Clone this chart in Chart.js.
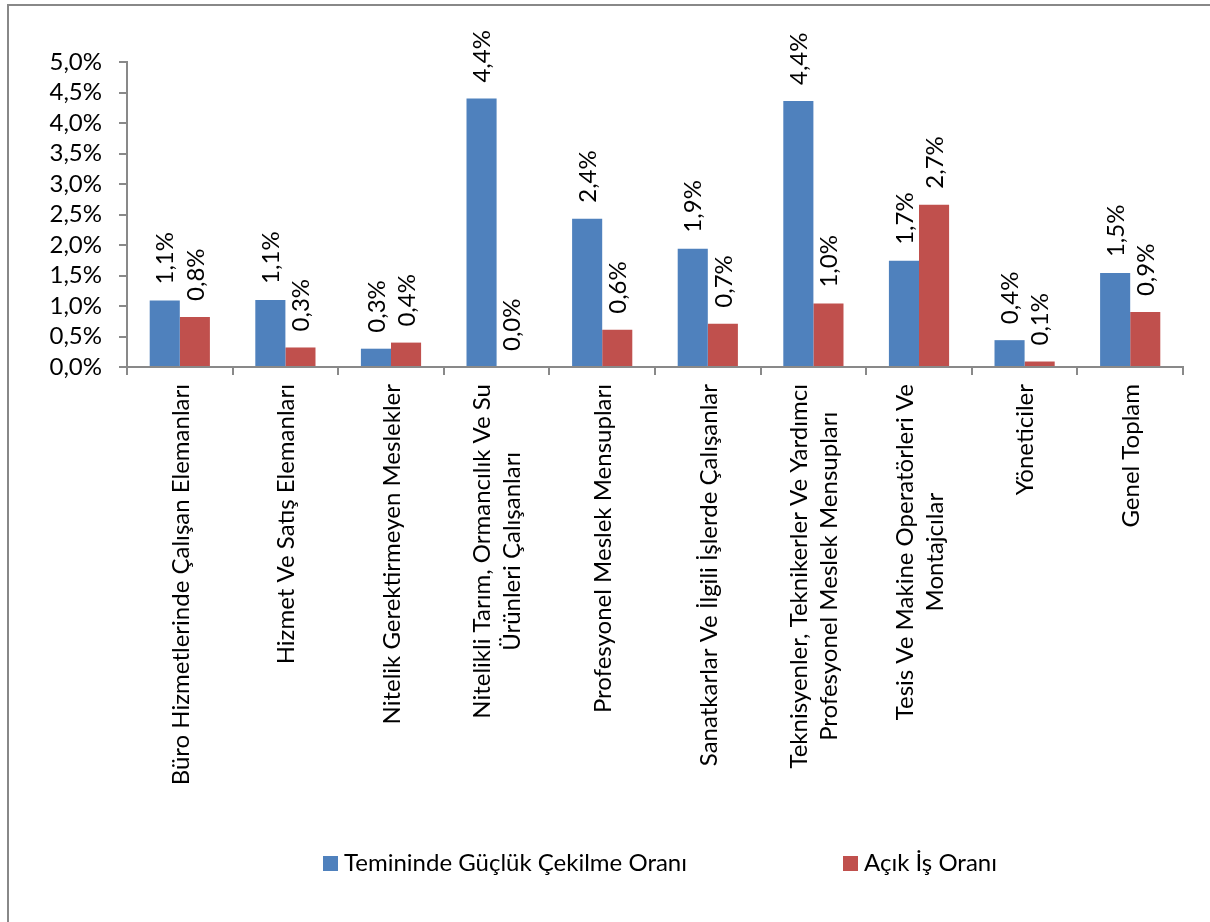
<!DOCTYPE html>
<html lang="tr">
<head>
<meta charset="utf-8">
<title>Temininde Güçlük Çekilme Oranı ve Açık İş Oranı</title>
<script src="https://cdn.jsdelivr.net/npm/chart.js@4.4.1/dist/chart.umd.min.js"></script>
<style>
    html, body { margin: 0; padding: 0; background: #ffffff; overflow: hidden; }
    #frame {
        position: absolute; left: 7px; top: 4px; width: 1400px; height: 1100px;
        border-left: 2px solid #888888; border-top: 2px solid #888888;
    }
    #chart { position: absolute; left: 0; top: 0; }
</style>
</head>
<body>
<div id="frame"></div>
<canvas id="chart" width="1210" height="922"></canvas>
<script>
// ------------------ DATA ------------------
const categories = [
    ["Büro Hizmetlerinde Çalışan Elemanları"],
    ["Hizmet Ve Satış Elemanları"],
    ["Nitelik Gerektirmeyen Meslekler"],
    ["Nitelikli Tarım, Ormancılık Ve Su", "Ürünleri Çalışanları"],
    ["Profesyonel Meslek Mensupları"],
    ["Sanatkarlar Ve İlgili İşlerde Çalışanlar"],
    ["Teknisyenler, Teknikerler Ve Yardımcı", "Profesyonel Meslek Mensupları"],
    ["Tesis Ve Makine Operatörleri Ve", "Montajcılar"],
    ["Yöneticiler"],
    ["Genel Toplam"]
];
const seriesNames = ["Temininde Güçlük Çekilme Oranı", "Açık İş Oranı"];
const teminindeGucluk = [1.09, 1.10, 0.30, 4.40, 2.43, 1.94, 4.36, 1.74, 0.44, 1.54];
const acikIs = [0.82, 0.32, 0.40, 0.00, 0.61, 0.71, 1.04, 2.66, 0.09, 0.90];
const yTicks = [0, 0.5, 1, 1.5, 2, 2.5, 3, 3.5, 4, 4.5, 5];

// ------------------ STYLE ------------------
const FONT = "Lato, 'Open Sans', sans-serif";
const FONT_SIZE = 24;
const AXIS_COLOR = "#898989";
const COLORS = ["#4F81BD", "#C0504D"];

// "1,1%" style, Turkish decimal comma
function pct(v) {
    return v.toFixed(1).replace(".", ",") + "%";
}

// ------------------ PLUGINS ------------------
// value labels, rotated, above each bar
const barLabels = {
    id: "barLabels",
    afterDatasetsDraw(chart) {
        const ctx = chart.ctx;
        ctx.save();
        ctx.font = FONT_SIZE + "px " + FONT;
        ctx.fillStyle = "#000000";
        ctx.textAlign = "left";
        ctx.textBaseline = "middle";
        chart.data.datasets.forEach((ds, di) => {
            const meta = chart.getDatasetMeta(di);
            meta.data.forEach((bar, i) => {
                ctx.save();
                ctx.translate(bar.x + 1, bar.y - 16);
                ctx.rotate(-Math.PI / 2);
                ctx.fillText(pct(ds.data[i]), 0, 0);
                ctx.restore();
            });
        });
        ctx.restore();
    }
};

// category labels: rotated block, lines centred inside the block
const categoryLabels = {
    id: "categoryLabels",
    afterDraw(chart) {
        const ctx = chart.ctx;
        const xScale = chart.scales.x;
        const lineHeight = 30;
        ctx.save();
        ctx.font = FONT_SIZE + "px " + FONT;
        ctx.fillStyle = "#000000";
        ctx.textAlign = "center";
        ctx.textBaseline = "middle";
        chart.data.labels.forEach((lines, i) => {
            const x = xScale.getPixelForValue(i);
            const blockLen = Math.max(...lines.map(l => ctx.measureText(l).width));
            const yMid = xScale.top + 17 + blockLen / 2;
            lines.forEach((line, li) => {
                const off = (li - (lines.length - 1) / 2) * lineHeight;
                ctx.save();
                ctx.translate(x + off + 1, yMid);
                ctx.rotate(-Math.PI / 2);
                ctx.fillText(line, 0, 0);
                ctx.restore();
            });
        });
        ctx.restore();
    }
};

// legend drawn by hand: the two items sit far apart in the original
const customLegend = {
    id: "customLegend",
    afterDraw(chart, args, opts) {
        const ctx = chart.ctx;
        ctx.save();
        ctx.font = FONT_SIZE + "px " + FONT;
        ctx.textBaseline = "middle";
        chart.data.datasets.forEach((ds, i) => {
            const x = opts.starts[i];
            const y = opts.y;
            ctx.fillStyle = ds.backgroundColor;
            ctx.fillRect(x, y - 7, 15, 15);
            ctx.fillStyle = "#000000";
            ctx.fillText(ds.label, x + 21, y);
        });
        ctx.restore();
    }
};

// ------------------ CHART ------------------
const ctx = document.getElementById("chart").getContext("2d");

new Chart(ctx, {
    type: "bar",
    data: {
        labels: categories,
        datasets: [
            {
                label: seriesNames[0],
                data: teminindeGucluk,
                backgroundColor: COLORS[0],
                borderWidth: 0
            },
            {
                label: seriesNames[1],
                data: acikIs,
                backgroundColor: COLORS[1],
                borderWidth: 0
            }
        ]
    },
    options: {
        responsive: false,
        animation: false,
        events: [],
        categoryPercentage: 0.57,
        barPercentage: 1.0,
        layout: {
            padding: { top: 62, right: 27, bottom: 0, left: 0 }
        },
        plugins: {
            legend: { display: false },
            tooltip: { enabled: false },
            customLegend: { starts: [323, 843], y: 863 }
        },
        scales: {
            x: {
                afterFit: (scale) => { scale.height = 555; },
                grid: {
                    drawOnChartArea: false,
                    drawTicks: true,
                    tickLength: 8,
                    color: AXIS_COLOR,
                    lineWidth: 2
                },
                border: { display: true, color: AXIS_COLOR, width: 2 },
                ticks: { display: false }
            },
            y: {
                min: 0,
                max: 5,
                afterFit: (scale) => { scale.width = 127; },
                afterBuildTicks: (scale) => {
                    scale.ticks = yTicks.map(v => ({ value: v }));
                },
                grid: {
                    drawOnChartArea: false,
                    tickLength: 8,
                    color: AXIS_COLOR,
                    lineWidth: 2
                },
                border: { display: true, color: AXIS_COLOR, width: 2 },
                ticks: {
                    color: "#000000",
                    padding: 17,
                    autoSkip: false,
                    font: { family: FONT, size: FONT_SIZE },
                    callback: (v) => pct(v)
                }
            }
        }
    },
    plugins: [barLabels, categoryLabels, customLegend]
});
</script>
</body>
</html>
